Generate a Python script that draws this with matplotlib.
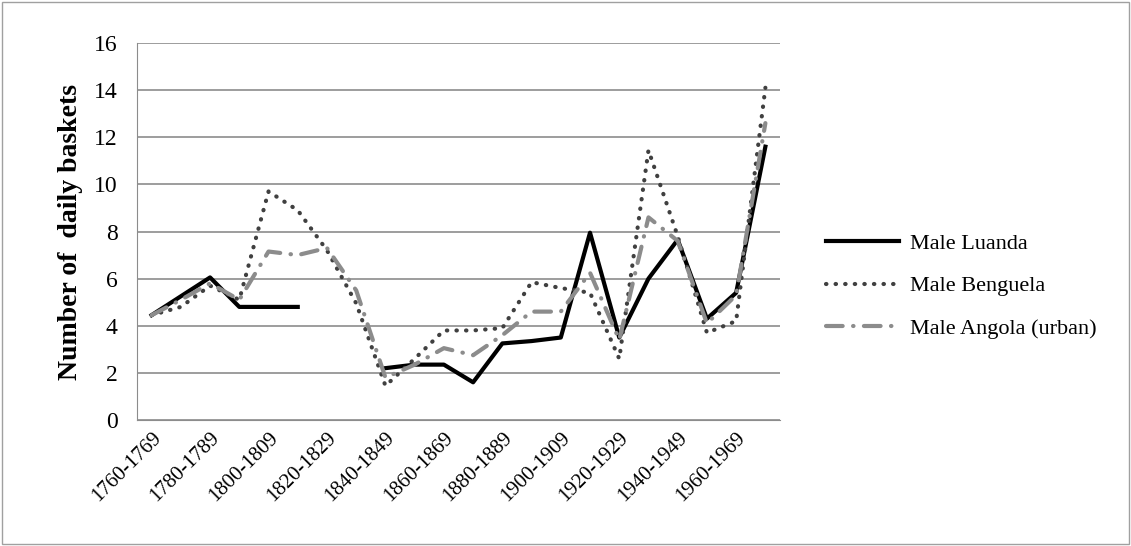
import numpy as np
import matplotlib.pyplot as plt

periods = ['%d-%d' % (y, y + 9) for y in range(1760, 1980, 10)]
luanda = [4.45, 5.25, 6.05, 4.8, 4.8, 4.8, np.nan, np.nan, 2.2, 2.35, 2.35, 1.6,
          3.25, 3.35, 3.5, 7.95, 3.5, 6.0, 7.65, 4.3, 5.4, 11.6]
benguela = [4.45, 4.8, 5.7, 5.1, 9.7, 8.9, 7.2, 4.95, 1.45, 2.6, 3.8, 3.8,
            3.9, 5.85, 5.6, 5.4, 2.6, 11.45, 7.8, 3.7, 4.2, 14.1]
angola = [4.45, 5.1, 5.8, 5.1, 7.15, 7.0, 7.3, 5.5, 1.8, 2.35, 3.05, 2.75,
          3.6, 4.6, 4.6, 6.25, 3.4, 8.6, 7.6, 4.1, 5.3, 12.6]

plt.rcParams['font.family'] = ['Liberation Serif', 'DejaVu Serif']
fig = plt.figure(figsize=(11.31, 5.46), dpi=100)
ax = fig.add_axes([137/1131, 1 - 420/546, (780-137)/1131, (420-43)/546])
fig.patches.append(plt.Rectangle((0.002, 0.004), 0.996, 0.992, transform=fig.transFigure,
                                 fill=False, edgecolor='#a0a0a0', linewidth=1))

x = np.arange(len(periods))
ax.plot(x, luanda, color='black', linewidth=3, label='Male Luanda')
ax.plot(x, benguela, color='#404040', linewidth=3, linestyle=(0, (0.1, 2.2)),
        dash_capstyle='round', label='Male Benguela')
ax.plot(x, angola, color='#8c8c8c', linewidth=3, linestyle=(0, (4, 2.5, 0.1, 2.5)),
        dash_capstyle='round', label='Male Angola (urban)')

ax.set_xlim(-0.5, len(periods) - 0.5)
ax.set_ylim(0, 16)
ax.set_yticks(range(0, 17, 2))
ax.set_xticks(x[::2])
ax.set_xticklabels(periods[::2], rotation=45, ha='right', rotation_mode='anchor', fontsize=15)
ax.tick_params(axis='y', labelsize=17, length=0, pad=14)
ax.tick_params(axis='x', length=0, pad=6)
ax.grid(axis='y', color='#8c8c8c', linewidth=1.2)
ax.set_axisbelow(True)
for s in ['top', 'right']:
    ax.spines[s].set_visible(False)
ax.spines['left'].set_color('#8c8c8c')
ax.spines['bottom'].set_color('#8c8c8c')
ax.set_ylabel('Number of  daily baskets', fontsize=20, fontweight='bold', labelpad=8)
ax.legend(loc='center left', bbox_to_anchor=(1.04, 0.355), frameon=False, fontsize=16,
          handlelength=3.3, handletextpad=0.5, labelspacing=1.0)

fig.savefig('out.png')
